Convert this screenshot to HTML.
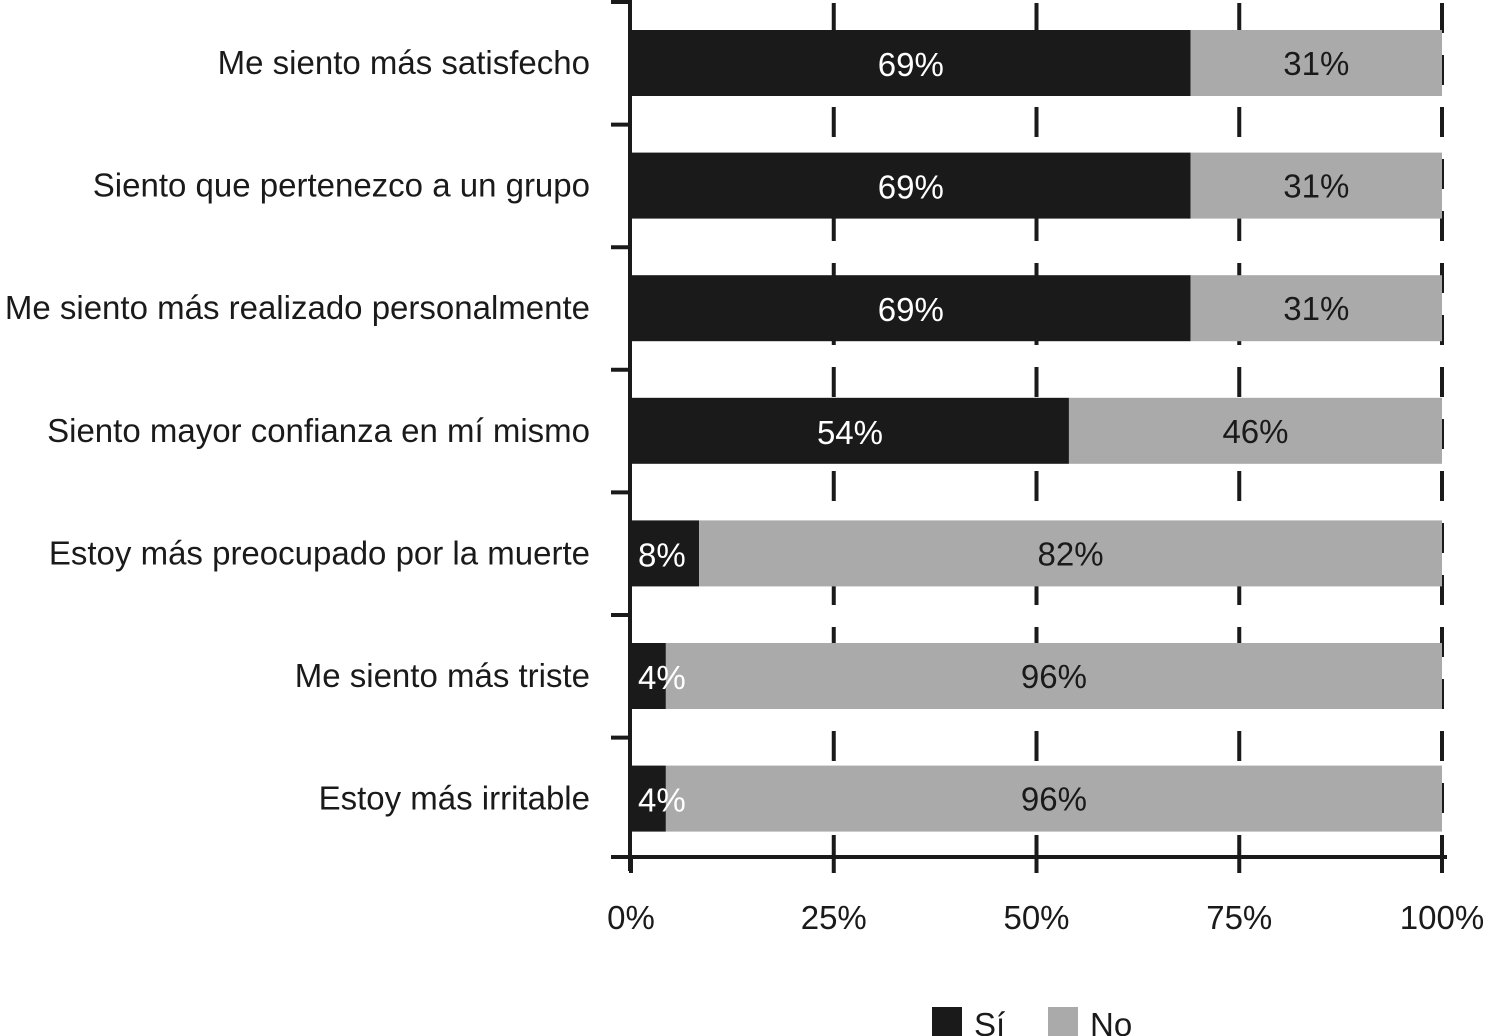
<!DOCTYPE html>
<html><head><meta charset="utf-8"><style>
html,body{margin:0;padding:0;background:#fff;}
svg{display:block;font-family:"Liberation Sans",sans-serif;}
</style></head><body>
<svg id="chart" width="1487" height="1036"></svg>
<script>
const categories=["Me siento más satisfecho","Siento que pertenezco a un grupo","Me siento más realizado personalmente","Siento mayor confianza en mí mismo","Estoy más preocupado por la muerte","Me siento más triste","Estoy más irritable"];
const siValues=[69,69,69,54,8.4,4.3,4.3];
const siLabels=["69%","69%","69%","54%","8%","4%","4%"];
const noLabels=["31%","31%","31%","46%","82%","96%","96%"];
const xTicks=[0,25,50,75,100];
const xTickLabels=["0%","25%","50%","75%","100%"];
const NS="http://www.w3.org/2000/svg";
const svg=document.getElementById("chart");
const x0=631,x1=1442,y0=2,pitch=122.6,barH=66;
const FS=33;
const xs=v=>x0+(x1-x0)*v/100;
const yc=i=>y0+pitch*i+61;
function mk(tag,attrs,parent){const e=document.createElementNS(NS,tag);for(const k in attrs)e.setAttribute(k,attrs[k]);(parent||svg).appendChild(e);return e;}
xTicks.slice(1).forEach((t,i)=>{
 const g=mk("line",{x1:xs(t),x2:xs(t),y1:0,y2:856,stroke:"#1a1a1a","stroke-width":4,"stroke-dasharray":"30,22","stroke-dashoffset":"-3"});
 
 
});
categories.forEach((c,i)=>{
 const top=yc(i)-barH/2;
 const b=mk("rect",{x:xs(0),y:top,width:xs(siValues[i])-xs(0),height:barH,fill:"#1a1a1a"});
 
 
 const n=mk("rect",{x:xs(siValues[i]),y:top,width:xs(100)-xs(siValues[i]),height:barH,fill:"#aaaaaa"});
 
 
 const sx=siValues[i]<15?xs(0)+7:(xs(0)+xs(siValues[i]))/2;
 const st=mk("text",{x:sx,y:yc(i)+13,"font-size":FS,fill:"#fff","text-anchor":siValues[i]<15?"start":"middle"});
 st.textContent=siLabels[i];
 
 
 const nt=mk("text",{x:(xs(siValues[i])+xs(100))/2,y:yc(i)+12,"font-size":FS,fill:"#1a1a1a","text-anchor":"middle"});
 nt.textContent=noLabels[i];
 
 
 const ct=mk("text",{x:590,y:yc(i)+11,"font-size":FS,fill:"#1a1a1a","text-anchor":"end"});
 ct.textContent=c;
 
 
 const tk=mk("line",{x1:611,x2:630,y1:y0+pitch*i,y2:y0+pitch*i,stroke:"#1a1a1a","stroke-width":4});
 
 
});
const ya=mk("line",{x1:630,x2:630,y1:0,y2:871,stroke:"#1a1a1a","stroke-width":4});


const xa=mk("line",{x1:611,x2:1447,y1:857,y2:857,stroke:"#1a1a1a","stroke-width":4});


xTicks.forEach((t,i)=>{
 const l=mk("line",{x1:xs(t),x2:xs(t),y1:857,y2:873,stroke:"#1a1a1a","stroke-width":4});
 
 
 const tx=mk("text",{x:xs(t),y:929,"font-size":FS,fill:"#1a1a1a","text-anchor":"middle"});
 tx.textContent=xTickLabels[i];
 
 
});
const l1=mk("rect",{x:932,y:1007,width:30,height:30,fill:"#1a1a1a"});


const t1=mk("text",{x:974,y:1036,"font-size":FS,fill:"#1a1a1a"});t1.textContent="Sí";


const l2=mk("rect",{x:1048,y:1007,width:30,height:30,fill:"#aaaaaa"});


const t2=mk("text",{x:1090,y:1036,"font-size":FS,fill:"#1a1a1a"});t2.textContent="No";


</script>
</body></html>
